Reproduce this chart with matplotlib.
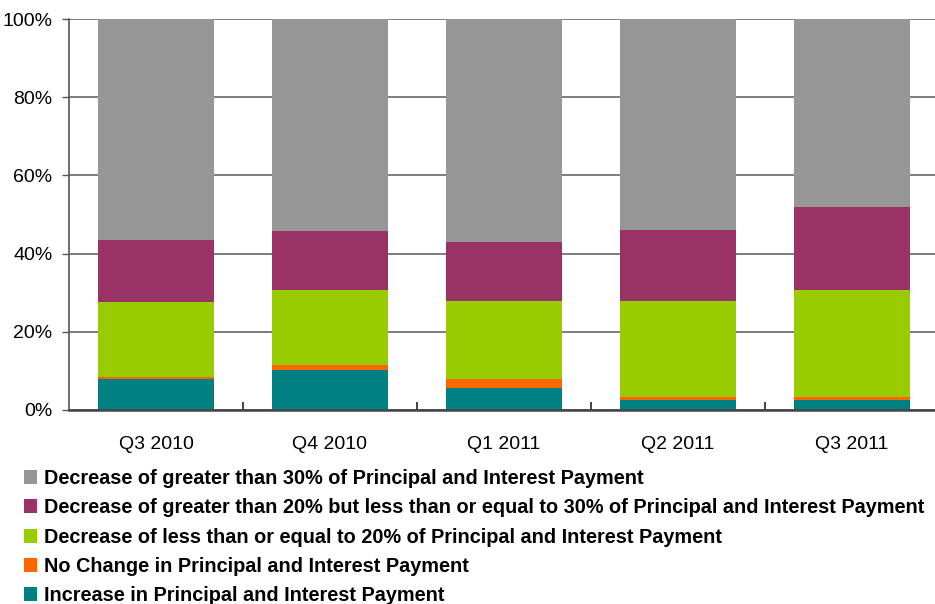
import numpy as np
import matplotlib.pyplot as plt
from matplotlib.patches import Patch

quarters = ["Q3 2010", "Q4 2010", "Q1 2011", "Q2 2011", "Q3 2011"]

# shares in percent, bottom to top
increase = [8.0, 10.3, 5.7, 2.6, 2.6]
no_change = [0.5, 1.1, 2.3, 0.8, 0.6]
dec_le20 = [19.0, 19.2, 19.8, 24.6, 27.4]
dec_20_30 = [15.9, 15.2, 15.1, 18.0, 21.3]
dec_gt30 = [56.6, 54.2, 57.1, 54.0, 48.1]

labels = [
    "Increase in Principal and Interest Payment",
    "No Change in Principal and Interest Payment",
    "Decrease of less than or equal to 20% of Principal and Interest Payment",
    "Decrease of greater than 20% but less than or equal to 30% of Principal and Interest Payment",
    "Decrease of greater than 30% of Principal and Interest Payment",
]
colors = ["#008080", "#FF6600", "#99CC00", "#993366", "#969696"]

plt.rcParams['font.family'] = ['Liberation Sans', 'DejaVu Sans']

fig = plt.figure(figsize=(9.35, 6.04), dpi=100)
W, H = 935, 604
ax = fig.add_axes([69 / W, 194 / H, 870 / W, 391 / H])

x = np.arange(len(quarters))
series = [increase, no_change, dec_le20, dec_20_30, dec_gt30]
bottom = np.zeros(len(quarters))
handles = []
for vals, col, lab in zip(series, colors, labels):
    ax.bar(x, vals, width=0.667, bottom=bottom, color=col, zorder=2)
    bottom += np.array(vals)
    handles.append(Patch(facecolor=col, label=lab))

ax.set_xlim(-0.5, len(quarters) - 0.5)
ax.set_ylim(0, 100)
ax.set_yticks(np.arange(0, 101, 20))
ax.set_yticklabels([f"{v}%" for v in range(0, 101, 20)])
ax.yaxis.grid(True, color="#595959", linewidth=1.1, zorder=0)
ax.set_axisbelow(True)

ax.set_xticks(x)
ax.set_xticklabels(quarters)
ax.set_xticks(np.arange(0.5, len(quarters) - 0.5, 1), minor=True)
ax.tick_params(axis="x", which="major", length=0, pad=19, labelsize=14)
ax.tick_params(axis="x", which="minor", direction="in", length=6, width=1.2, color="#222222")
ax.tick_params(axis="y", length=5, width=1, color="#555555", pad=7, labelsize=14)

for s in ["top", "right"]:
    ax.spines[s].set_visible(False)
ax.spines["left"].set_color("#555555")
ax.spines["left"].set_linewidth(1.2)
ax.spines["bottom"].set_color("#444444")
ax.spines["bottom"].set_linewidth(1.8)

fig.legend(handles=handles[::-1], loc="upper left",
           bbox_to_anchor=(24 / W, 1 - 469 / H), frameon=False,
           prop={"weight": "bold", "size": 14.3},
           handlelength=0.64, handleheight=0.7, handletextpad=0.36,
           labelspacing=0.52, borderpad=0, borderaxespad=0)

fig.savefig("out.png", dpi=100)
